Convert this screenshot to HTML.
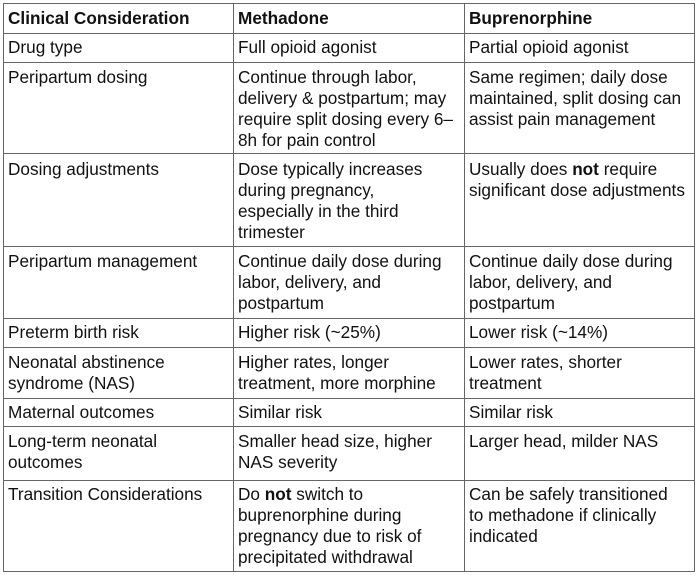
<!DOCTYPE html>
<html><head><style>
body{margin:0;background:#fff;width:700px;height:575px;overflow:hidden;font-family:"Liberation Sans",Arial,sans-serif;font-size:17.2px;color:#111;}
.h{position:absolute;background:#666;height:1px;left:3px;width:692px}
.v{position:absolute;background:#666;width:1px;top:3px;height:569px}
.c{position:absolute;line-height:21px;white-space:nowrap}
b{font-weight:bold}
</style></head><body>
<div class="h" style="top:3px"></div>
<div class="h" style="top:33px"></div>
<div class="h" style="top:62px"></div>
<div class="h" style="top:153px"></div>
<div class="h" style="top:246px"></div>
<div class="h" style="top:318px"></div>
<div class="h" style="top:347px"></div>
<div class="h" style="top:398px"></div>
<div class="h" style="top:426px"></div>
<div class="h" style="top:480px"></div>
<div class="h" style="top:571px"></div>
<div class="v" style="left:3px"></div>
<div class="v" style="left:233px"></div>
<div class="v" style="left:464px"></div>
<div class="v" style="left:694px"></div>

<div class="c" style="left:8px;top:8px"><b>Clinical Consideration</b></div>
<div class="c" style="left:238px;top:8px"><b>Methadone</b></div>
<div class="c" style="left:469px;top:8px"><b>Buprenorphine</b></div>

<div class="c" style="left:8px;top:37px">Drug type</div>
<div class="c" style="left:238px;top:37px">Full opioid agonist</div>
<div class="c" style="left:469px;top:37px">Partial opioid agonist</div>

<div class="c" style="left:8px;top:67px">Peripartum dosing</div>
<div class="c" style="left:238px;top:67px">Continue through labor,<br>delivery &amp; postpartum; may<br>require split dosing every 6–<br>8h for pain control</div>
<div class="c" style="left:469px;top:67px">Same regimen; daily dose<br>maintained, split dosing can<br>assist pain management</div>

<div class="c" style="left:8px;top:159px">Dosing adjustments</div>
<div class="c" style="left:238px;top:159px">Dose typically increases<br>during pregnancy,<br>especially in the third<br>trimester</div>
<div class="c" style="left:469px;top:159px">Usually does <b>not</b> require<br>significant dose adjustments</div>

<div class="c" style="left:8px;top:251px">Peripartum management</div>
<div class="c" style="left:238px;top:251px">Continue daily dose during<br>labor, delivery, and<br>postpartum</div>
<div class="c" style="left:469px;top:251px">Continue daily dose during<br>labor, delivery, and<br>postpartum</div>

<div class="c" style="left:8px;top:322px">Preterm birth risk</div>
<div class="c" style="left:238px;top:322px">Higher risk (~25%)</div>
<div class="c" style="left:469px;top:322px">Lower risk (~14%)</div>

<div class="c" style="left:8px;top:352px">Neonatal abstinence<br>syndrome (NAS)</div>
<div class="c" style="left:238px;top:352px">Higher rates, longer<br>treatment, more morphine</div>
<div class="c" style="left:469px;top:352px">Lower rates, shorter<br>treatment</div>

<div class="c" style="left:8px;top:402px">Maternal outcomes</div>
<div class="c" style="left:238px;top:402px">Similar risk</div>
<div class="c" style="left:469px;top:402px">Similar risk</div>

<div class="c" style="left:8px;top:431px">Long-term neonatal<br>outcomes</div>
<div class="c" style="left:238px;top:431px">Smaller head size, higher<br>NAS severity</div>
<div class="c" style="left:469px;top:431px">Larger head, milder NAS</div>

<div class="c" style="left:8px;top:484px">Transition Considerations</div>
<div class="c" style="left:238px;top:484px">Do <b>not</b> switch to<br>buprenorphine during<br>pregnancy due to risk of<br>precipitated withdrawal</div>
<div class="c" style="left:469px;top:484px">Can be safely transitioned<br>to methadone if clinically<br>indicated</div>
</body></html>
